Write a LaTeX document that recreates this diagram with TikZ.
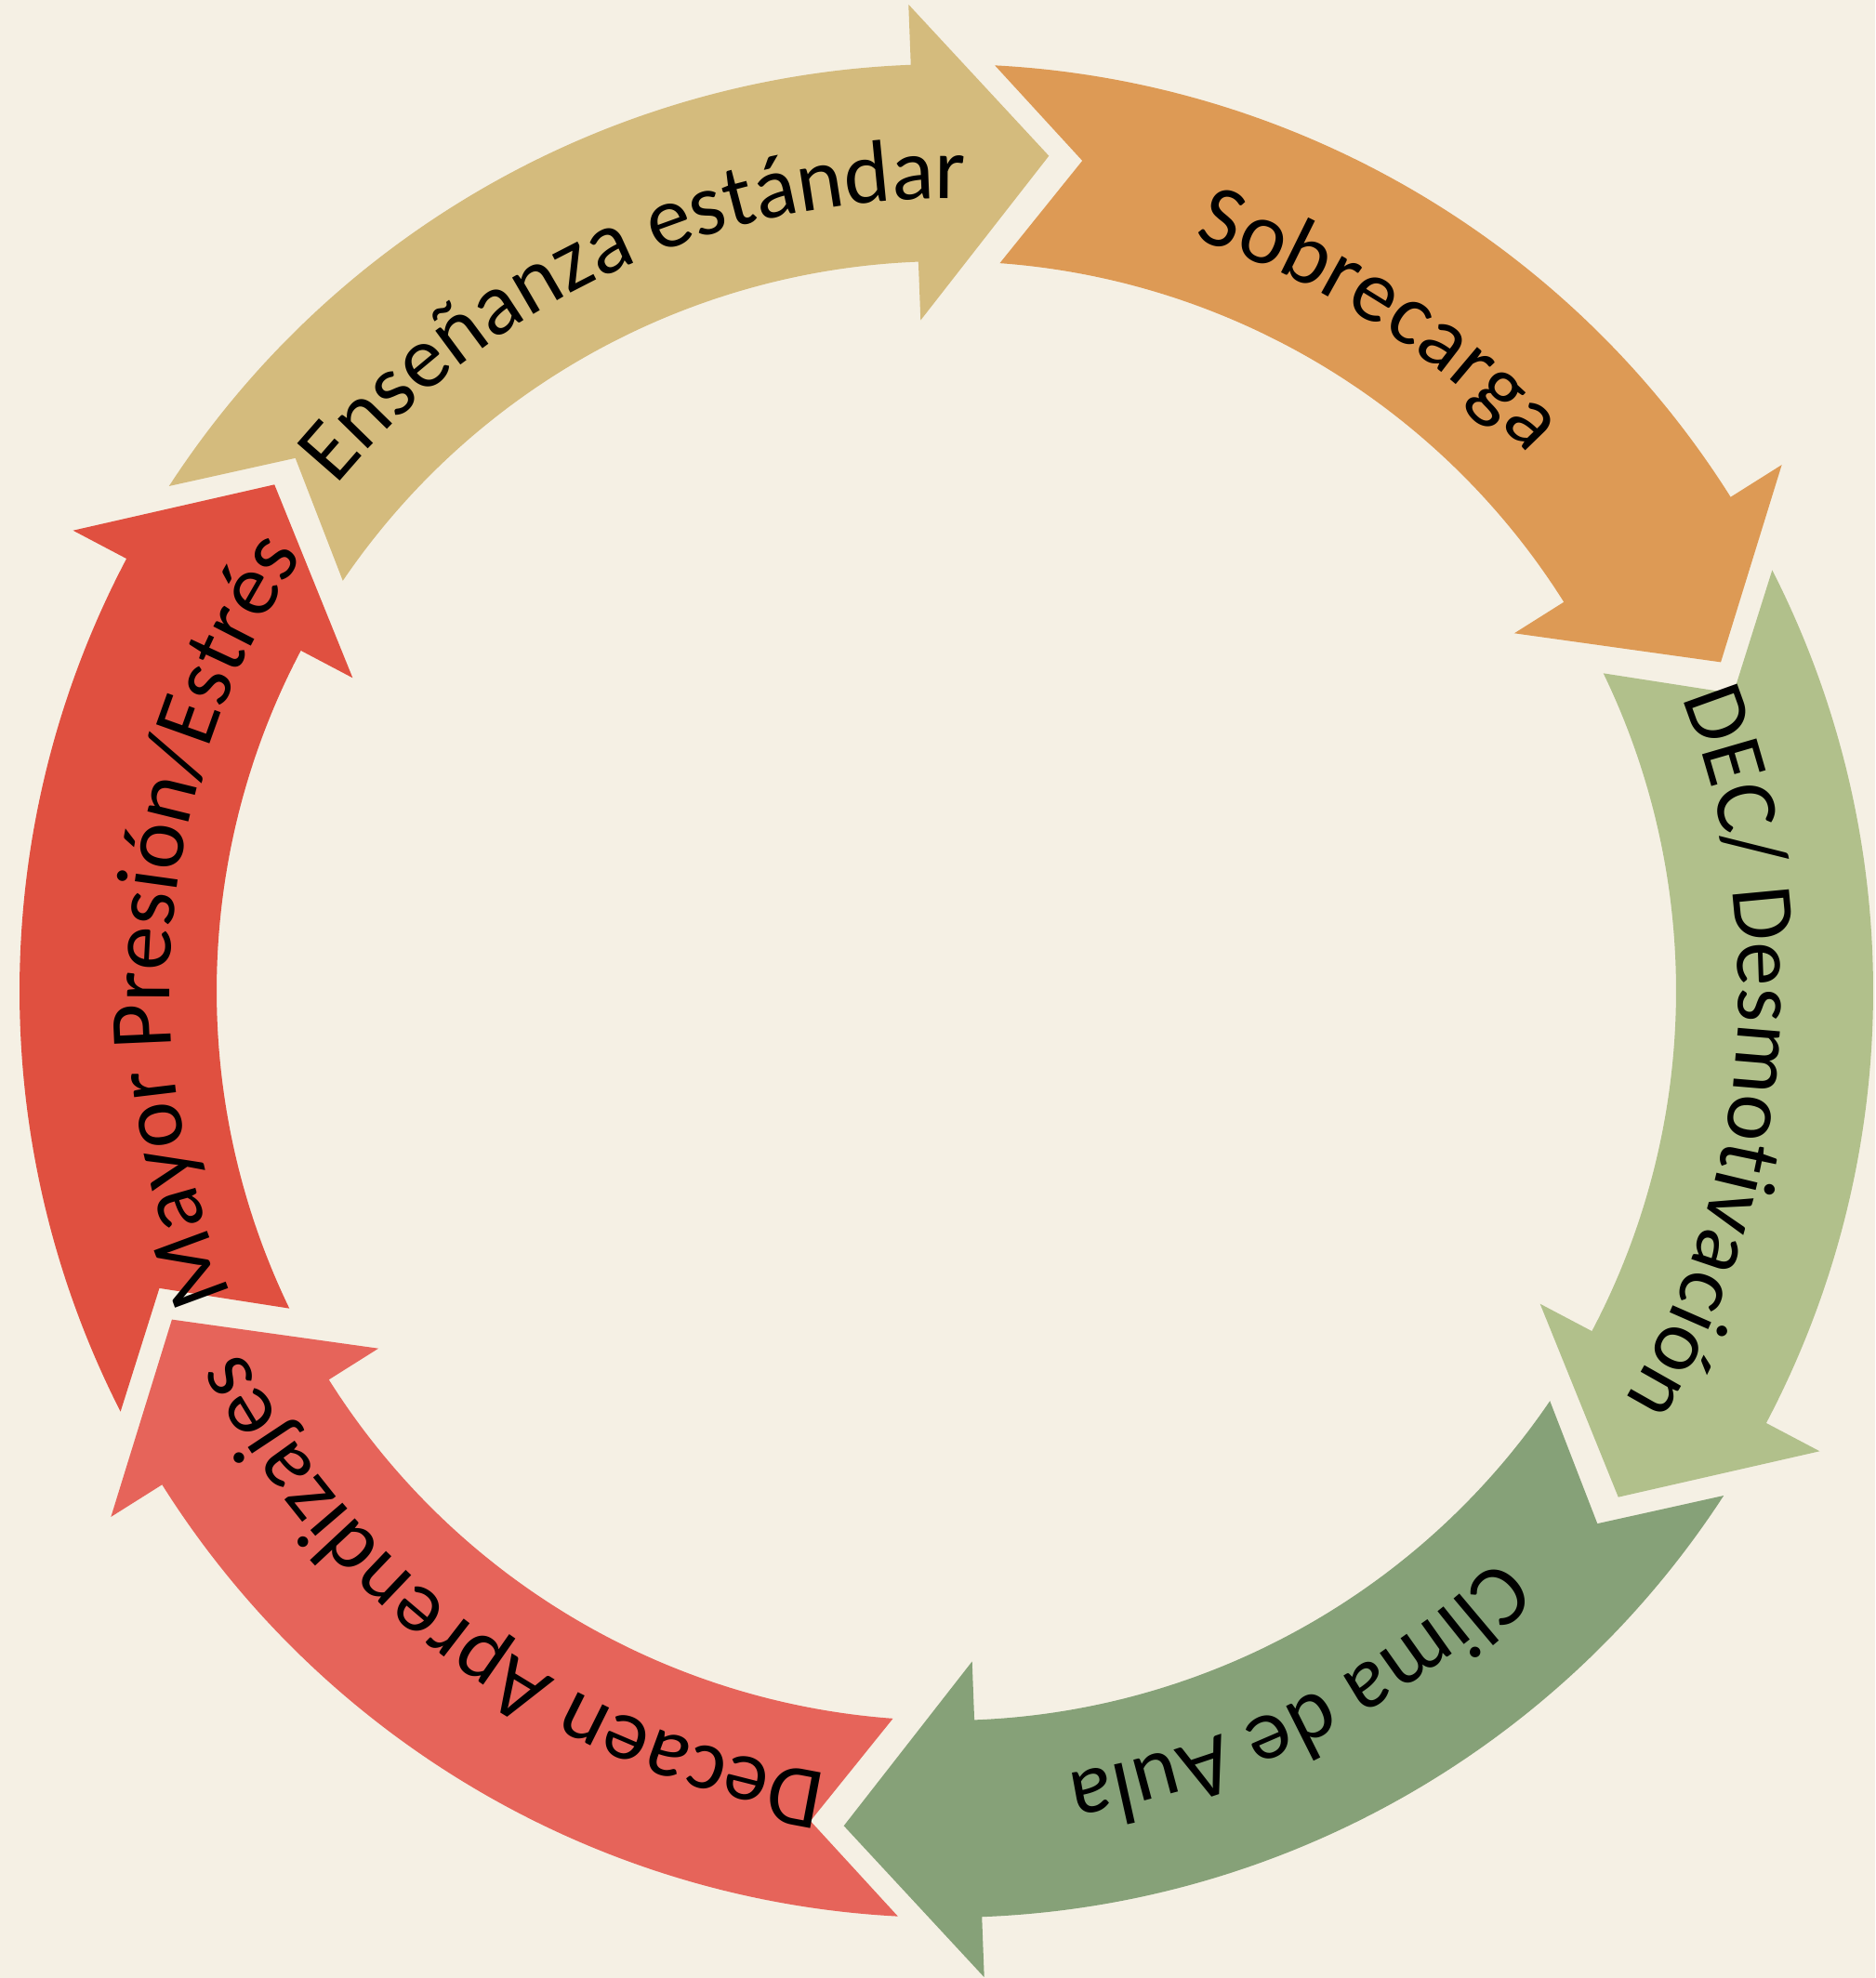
\documentclass[tikz,border=0pt]{standalone}
\usepackage{fontspec}
\setmainfont{Carlito}
\usetikzlibrary{decorations.text}

\definecolor{fondo}{RGB}{245,240,228}
\definecolor{arena}{RGB}{212,187,125}
\definecolor{naranja}{RGB}{221,154,85}
\definecolor{verdeclaro}{RGB}{177,192,139}
\definecolor{verdeoscuro}{RGB}{134,161,120}
\definecolor{salmon}{RGB}{230,100,90}
\definecolor{rojo}{RGB}{224,80,64}

\newcommand{\etiq}{\fontsize{27pt}{32pt}\selectfont}

\tikzset{
        flecha/.style={fill=#1, draw=none}, % relleno de cada flecha curva
        rotulo/.style={decorate, decoration={text along path, text align=center, text={|\etiq|#1}}}, % texto sobre el arco
        }

% [#1] = radio del texto, #2 = angulo de la punta, #3 = color, #4 = centro del texto, #5 = texto
\newcommand{\flechaciclo}[5][8.52]{%
        \fill[flecha=#3] ({#2+64}:9.97) arc[start angle={#2+64}, end angle={#2+9.2}, radius=9.97]
                -- ({#2+9.2}:10.62) -- ({#2}:9.05) -- ({#2+9.2}:7.22) -- ({#2+9.2}:7.85)
                arc[start angle={#2+9.2}, end angle={#2+62.8}, radius=7.85]
                -- ({#2+57.7}:9.05) -- cycle;
        \path[rotulo={#5}] ({#4+31}:#1) arc[start angle={#4+31}, end angle={#4-31}, radius=#1];
}

\begin{document}
\begin{tikzpicture}
        % fondo y marco
        \useasboundingbox (-10.18,-10.62) rectangle (9.99,10.66);
        \fill[fondo] (-10.18,-10.62) rectangle (9.99,10.66);

        % las seis flechas del ciclo
        \flechaciclo{83}{arena}{114.5}{Enseñanza estándar}
        \flechaciclo{23}{naranja}{57.2}{Sobrecarga}
        \flechaciclo{-37}{verdeclaro}{-4.7}{DEC/ Desmotivación}
        \flechaciclo{-97}{verdeoscuro}{-63.5}{Clima de Aula}
        \flechaciclo{-157}{salmon}{-125.8}{Decaen Aprendizajes}
        \flechaciclo[8.35]{143}{rojo}{174.5}{Mayor Presión/Estrés}
\end{tikzpicture}
\end{document}
